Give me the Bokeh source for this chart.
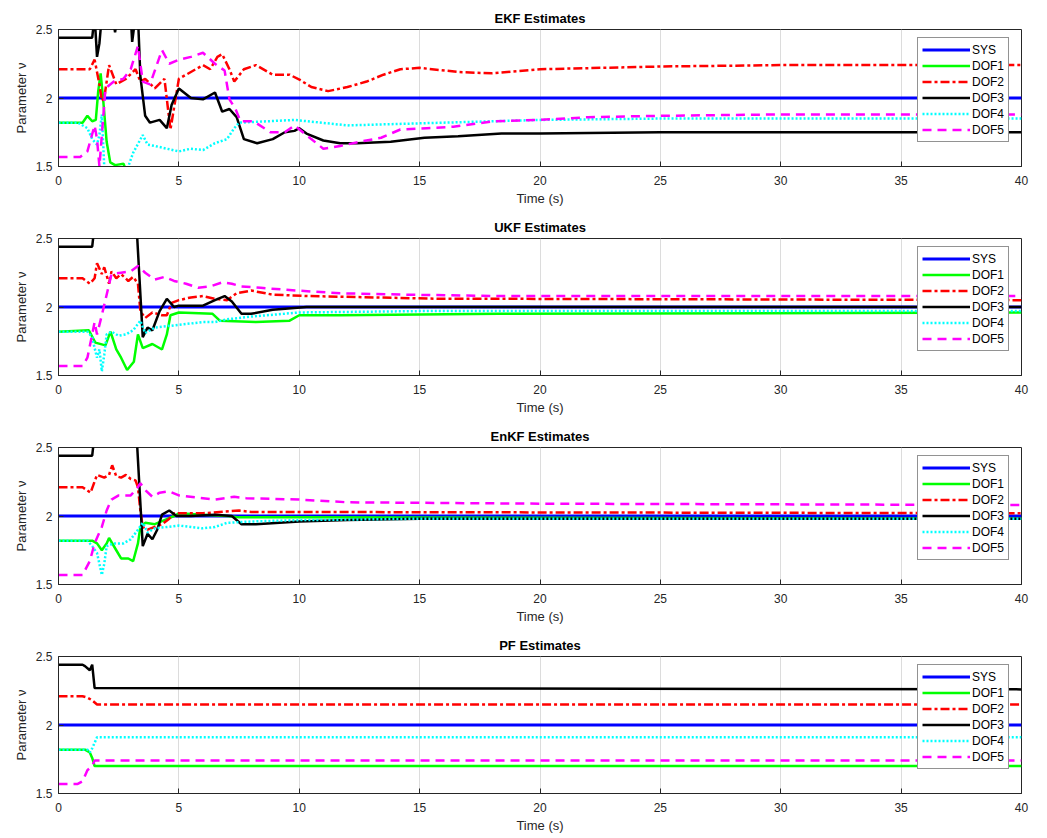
from bokeh.plotting import figure
from bokeh.layouts import column
from bokeh.models import Range1d, FixedTicker, CustomJSTickFormatter, Legend, LegendItem
from bokeh.embed import file_html
from bokeh.resources import INLINE

# ---------------- data ----------------
SERIES = ["SYS", "DOF1", "DOF2", "DOF3", "DOF4", "DOF5"]
X_TICKS = [0, 5, 10, 15, 20, 25, 30, 35, 40]
Y_TICKS = [1.5, 2, 2.5]

SYS_T = [0, 40]
SYS_V = [2.0, 2.0]

# EKF
EKF_DOF1_T = [0, 1.0, 1.2, 1.4, 1.55, 1.65, 1.75, 1.85, 2.0, 2.15, 2.35, 2.7, 2.85, 40]
EKF_DOF1_V = [1.82, 1.82, 1.87, 1.83, 1.84, 2.05, 2.18, 2.0, 1.68, 1.53, 1.51, 1.52, 1.45, 1.45]
EKF_DOF2_T = [0, 1.3, 1.5, 1.7, 1.8, 1.9, 2.1, 2.4, 2.8, 3.2, 3.4, 3.6, 4.0, 4.4, 4.65, 5.0, 5.5, 6.0, 6.3, 6.6, 6.8, 7.1, 7.3, 7.7, 8.2, 8.9, 9.6, 10.05, 10.5, 11.2, 12.0, 12.8, 13.5, 14.2, 15.0, 16.6, 18.0, 20, 25, 30, 40]
EKF_DOF2_V = [2.21, 2.21, 2.28, 2.10, 1.98, 2.0, 2.24, 2.1, 2.14, 2.21, 2.12, 2.14, 2.07, 2.14, 1.77, 2.14, 2.19, 2.24, 2.21, 2.30, 2.32, 2.21, 2.12, 2.21, 2.24, 2.17, 2.17, 2.13, 2.08, 2.05, 2.08, 2.12, 2.17, 2.21, 2.22, 2.19, 2.18, 2.21, 2.23, 2.24, 2.24]
EKF_DOF3_T = [0, 1.4, 1.5, 1.6, 1.7, 1.8, 2.25, 2.35, 2.45, 3.0, 3.06, 3.2, 3.3, 3.4, 3.6, 3.8, 4.2, 4.5, 4.7, 5.0, 5.5, 6.0, 6.5, 6.8, 7.1, 7.4, 7.7, 8.25, 8.9, 9.4, 9.8, 10.0, 10.3, 11.0, 11.7, 12.4, 13.8, 15.2, 16.6, 18.4, 20, 25, 40]
EKF_DOF3_V = [2.44, 2.44, 2.6, 2.3, 2.4, 2.6, 2.6, 2.48, 2.6, 2.6, 2.41, 2.6, 2.6, 2.16, 1.87, 1.82, 1.84, 1.78, 1.95, 2.07, 2.0, 1.99, 2.04, 1.90, 1.92, 1.86, 1.70, 1.67, 1.70, 1.75, 1.76, 1.78, 1.74, 1.69, 1.67, 1.67, 1.68, 1.71, 1.72, 1.74, 1.74, 1.75, 1.75]
EKF_DOF4_T = [0, 0.8, 1.2, 1.4, 1.6, 1.7, 1.8, 1.9, 2.0, 2.8, 2.9, 3.1, 3.5, 3.7, 4.0, 4.5, 5.0, 5.5, 6.0, 6.5, 7.0, 7.3, 7.5, 9.8, 12, 14, 16, 18, 20, 25, 40]
EKF_DOF4_V = [1.82, 1.82, 1.78, 1.70, 1.66, 1.73, 1.88, 1.5, 1.45, 1.45, 1.5, 1.60, 1.73, 1.66, 1.65, 1.63, 1.61, 1.63, 1.62, 1.67, 1.70, 1.78, 1.82, 1.84, 1.80, 1.81, 1.82, 1.83, 1.84, 1.85, 1.85]
EKF_DOF5_T = [0, 0.9, 1.2, 1.5, 1.6, 1.7, 1.95, 2.3, 2.7, 3.0, 3.3, 3.5, 3.8, 4.3, 4.6, 5.0, 5.5, 6.0, 6.5, 6.9, 7.1, 7.35, 7.56, 8.1, 8.8, 9.4, 9.8, 10.5, 11.0, 11.7, 12.5, 13.4, 14.2, 15.3, 16.4, 18.1, 20, 22, 25, 30, 40]
EKF_DOF5_V = [1.57, 1.57, 1.61, 1.80, 1.70, 1.50, 2.07, 2.12, 2.14, 2.21, 2.38, 2.12, 2.10, 2.35, 2.25, 2.28, 2.30, 2.33, 2.25, 2.20, 1.99, 1.92, 1.83, 1.83, 1.75, 1.75, 1.80, 1.70, 1.63, 1.65, 1.68, 1.71, 1.77, 1.78, 1.79, 1.83, 1.84, 1.86, 1.87, 1.88, 1.88]

# UKF
UKF_DOF1_T = [0, 1.26, 1.53, 1.95, 2.16, 2.4, 2.6, 2.85, 3.13, 3.3, 3.5, 3.9, 4.3, 4.5, 4.65, 5.0, 6.4, 6.7, 8.2, 9.6, 10.0, 11.7, 18.3, 40]
UKF_DOF1_V = [1.82, 1.83, 1.74, 1.72, 1.82, 1.69, 1.63, 1.54, 1.60, 1.80, 1.70, 1.73, 1.69, 1.80, 1.94, 1.96, 1.95, 1.90, 1.89, 1.90, 1.94, 1.94, 1.95, 1.96]
UKF_DOF2_T = [0, 1.0, 1.3, 1.5, 1.6, 1.8, 1.9, 2.1, 2.2, 2.4, 2.6, 2.9, 3.1, 3.3, 3.4, 3.6, 3.9, 4.3, 4.5, 4.7, 5.0, 5.5, 6.0, 6.5, 7.0, 7.4, 8.0, 8.9, 10.3, 13.1, 15.8, 18.3, 40]
UKF_DOF2_V = [2.21, 2.21, 2.17, 2.21, 2.32, 2.24, 2.29, 2.17, 2.26, 2.21, 2.24, 2.19, 2.22, 2.17, 1.97, 1.92, 1.96, 1.94, 1.94, 2.03, 2.05, 2.07, 2.08, 2.06, 2.05, 2.10, 2.12, 2.09, 2.08, 2.07, 2.06, 2.06, 2.05]
UKF_DOF3_T = [0, 1.4, 1.5, 3.24, 3.5, 3.7, 3.9, 4.2, 4.5, 4.8, 5.0, 6.0, 6.5, 6.9, 7.2, 7.6, 8.0, 8.9, 10.3, 40]
UKF_DOF3_V = [2.44, 2.44, 2.6, 2.6, 1.78, 1.85, 1.83, 1.97, 2.06, 2.0, 2.01, 2.01, 2.05, 2.08, 2.04, 1.95, 1.95, 1.98, 2.0, 2.0]
UKF_DOF4_T = [0, 1.2, 1.4, 1.5, 1.6, 1.7, 1.8, 1.9, 2.0, 2.2, 2.5, 2.8, 3.1, 3.4, 3.6, 4.0, 4.5, 5.0, 5.5, 6.0, 6.5, 7.0, 7.5, 8.0, 10, 15, 40]
UKF_DOF4_V = [1.82, 1.82, 1.78, 1.70, 1.63, 1.69, 1.53, 1.65, 1.80, 1.82, 1.79, 1.80, 1.83, 1.90, 1.81, 1.85, 1.86, 1.87, 1.88, 1.89, 1.89, 1.91, 1.92, 1.93, 1.96, 1.97, 1.97]
UKF_DOF5_T = [0, 1.0, 1.2, 1.4, 1.5, 1.6, 1.8, 2.0, 2.2, 2.6, 3.0, 3.3, 3.6, 4.0, 4.4, 4.8, 5.3, 5.8, 6.3, 6.8, 7.2, 7.6, 8.4, 9.9, 11.7, 14.5, 18.3, 40]
UKF_DOF5_V = [1.57, 1.57, 1.63, 1.80, 1.89, 1.80, 1.94, 2.09, 2.24, 2.25, 2.26, 2.30, 2.25, 2.20, 2.22, 2.19, 2.17, 2.14, 2.15, 2.18, 2.17, 2.15, 2.14, 2.12, 2.10, 2.09, 2.08, 2.08]

# EnKF
ENKF_DOF1_T = [0, 1.4, 1.6, 1.8, 2.0, 2.1, 2.4, 2.6, 2.9, 3.1, 3.3, 3.4, 3.6, 4.0, 4.4, 4.8, 5.0, 6.0, 7.0, 7.5, 10, 40]
ENKF_DOF1_V = [1.82, 1.82, 1.80, 1.75, 1.80, 1.84, 1.75, 1.69, 1.69, 1.67, 1.80, 1.92, 1.95, 1.94, 1.97, 2.0, 2.02, 2.01, 2.0, 1.99, 1.99, 1.98]
ENKF_DOF2_T = [0, 1.0, 1.33, 1.6, 1.9, 2.1, 2.23, 2.4, 2.6, 2.8, 3.0, 3.2, 3.3, 3.4, 3.5, 3.7, 4.0, 4.3, 4.6, 4.8, 5.0, 6.0, 7.5, 8.0, 40]
ENKF_DOF2_V = [2.21, 2.21, 2.17, 2.30, 2.28, 2.30, 2.37, 2.29, 2.28, 2.30, 2.27, 2.26, 2.21, 2.04, 1.92, 1.90, 1.92, 1.94, 1.98, 2.02, 2.02, 2.02, 2.04, 2.03, 2.02]
ENKF_DOF3_T = [0, 1.4, 1.5, 3.24, 3.5, 3.7, 3.9, 4.1, 4.3, 4.6, 4.9, 5.5, 6.5, 7.2, 7.6, 8.2, 10, 12, 15, 40]
ENKF_DOF3_V = [2.44, 2.44, 2.6, 2.6, 1.78, 1.87, 1.83, 1.90, 2.01, 2.04, 2.0, 2.0, 2.01, 2.0, 1.94, 1.94, 1.96, 1.97, 1.98, 1.98]
ENKF_DOF4_T = [0, 1.2, 1.4, 1.6, 1.8, 1.9, 2.0, 2.3, 2.7, 3.0, 3.3, 3.5, 3.7, 4.0, 4.5, 5.0, 5.5, 6.0, 6.5, 7.0, 8.0, 10, 15, 40]
ENKF_DOF4_V = [1.82, 1.82, 1.78, 1.73, 1.57, 1.65, 1.78, 1.80, 1.80, 1.83, 1.90, 1.95, 1.88, 1.91, 1.92, 1.93, 1.92, 1.91, 1.92, 1.95, 1.96, 1.97, 1.98, 1.98]
ENKF_DOF5_T = [0, 1.0, 1.3, 1.5, 1.8, 2.0, 2.2, 2.5, 3.0, 3.3, 3.4, 3.6, 3.9, 4.2, 4.6, 5.0, 6.0, 6.5, 7.3, 7.8, 10, 12, 20, 40]
ENKF_DOF5_V = [1.57, 1.57, 1.67, 1.80, 1.92, 2.04, 2.12, 2.15, 2.15, 2.21, 2.24, 2.19, 2.14, 2.17, 2.18, 2.15, 2.13, 2.12, 2.14, 2.13, 2.12, 2.10, 2.09, 2.08]

# PF
PF_DOF1_T = [0, 1.1, 1.3, 1.4, 1.5, 40]
PF_DOF1_V = [1.82, 1.82, 1.80, 1.76, 1.70, 1.70]
PF_DOF2_T = [0, 1.0, 1.2, 1.4, 1.6, 40]
PF_DOF2_V = [2.21, 2.21, 2.20, 2.18, 2.15, 2.15]
PF_DOF3_T = [0, 1.0, 1.1, 1.3, 1.4, 1.5, 40]
PF_DOF3_V = [2.44, 2.44, 2.43, 2.40, 2.44, 2.27, 2.26]
PF_DOF4_T = [0, 1.2, 1.3, 1.4, 1.5, 1.6, 40]
PF_DOF4_V = [1.82, 1.82, 1.80, 1.83, 1.87, 1.91, 1.91]
PF_DOF5_T = [0, 0.8, 1.0, 1.2, 1.4, 1.5, 40]
PF_DOF5_V = [1.57, 1.57, 1.59, 1.67, 1.70, 1.74, 1.74]

PANELS = [
    ("EKF Estimates", [(SYS_T, SYS_V), (EKF_DOF1_T, EKF_DOF1_V), (EKF_DOF2_T, EKF_DOF2_V),
                       (EKF_DOF3_T, EKF_DOF3_V), (EKF_DOF4_T, EKF_DOF4_V), (EKF_DOF5_T, EKF_DOF5_V)]),
    ("UKF Estimates", [(SYS_T, SYS_V), (UKF_DOF1_T, UKF_DOF1_V), (UKF_DOF2_T, UKF_DOF2_V),
                       (UKF_DOF3_T, UKF_DOF3_V), (UKF_DOF4_T, UKF_DOF4_V), (UKF_DOF5_T, UKF_DOF5_V)]),
    ("EnKF Estimates", [(SYS_T, SYS_V), (ENKF_DOF1_T, ENKF_DOF1_V), (ENKF_DOF2_T, ENKF_DOF2_V),
                        (ENKF_DOF3_T, ENKF_DOF3_V), (ENKF_DOF4_T, ENKF_DOF4_V), (ENKF_DOF5_T, ENKF_DOF5_V)]),
    ("PF Estimates", [(SYS_T, SYS_V), (PF_DOF1_T, PF_DOF1_V), (PF_DOF2_T, PF_DOF2_V),
                      (PF_DOF3_T, PF_DOF3_V), (PF_DOF4_T, PF_DOF4_V), (PF_DOF5_T, PF_DOF5_V)]),
]

# ---------------- styles ----------------
COLORS = ["#0000ff", "#00ff00", "#ff0000", "#000000", "#00ffff", "#ff00ff"]
DASHES = ["solid", "solid", "9 3 3 3", "solid", "2 2", "9 6"]
WIDTHS = [3, 2.5, 2.5, 2.5, 2.5, 2.5]
FONT = "Liberation Sans"
TXT = "#262626"


def make_panel(title, series):
    p = figure(width=1047, height=209, output_backend="svg", toolbar_location=None,
               x_range=Range1d(0, 40), y_range=Range1d(1.5, 2.5),
               min_border_left=58, min_border_right=26, min_border_top=29, min_border_bottom=43)
    p.title.text = title
    p.title.align = "center"
    p.title.text_font = FONT
    p.title.text_font_size = "13px"
    p.title.text_font_style = "bold"
    p.title.text_color = "#000000"
    p.title.standoff = 7

    p.outline_line_color = "#262626"
    p.outline_line_width = 1
    p.background_fill_color = "white"
    p.border_fill_color = "white"

    p.xgrid.grid_line_color = "#dcdcdc"
    p.xgrid.ticker = FixedTicker(ticks=X_TICKS)
    p.ygrid.grid_line_color = None

    p.xaxis.ticker = FixedTicker(ticks=X_TICKS)
    p.yaxis.ticker = FixedTicker(ticks=Y_TICKS)
    p.yaxis.formatter = CustomJSTickFormatter(code="return String(tick);")
    for ax in (p.xaxis[0], p.yaxis[0]):
        ax.major_tick_in = 5
        ax.major_tick_out = 0
        ax.minor_tick_in = 0
        ax.minor_tick_out = 0
        ax.axis_line_color = "#262626"
        ax.major_tick_line_color = "#262626"
        ax.major_label_text_font = FONT
        ax.major_label_text_font_size = "12px"
        ax.major_label_text_color = TXT
        ax.axis_label_text_font = FONT
        ax.axis_label_text_font_size = "13px"
        ax.axis_label_text_font_style = "normal"
        ax.axis_label_text_color = TXT
    p.xaxis.axis_label = "Time (s)"
    p.xaxis.major_label_standoff = 9
    p.xaxis.axis_label_standoff = 3
    p.yaxis.axis_label = "Parameter \u03bd"
    p.yaxis.major_label_standoff = 6
    p.yaxis.axis_label_standoff = 4

    items = []
    for name, (t, v), c, d, w in zip(SERIES, series, COLORS, DASHES, WIDTHS):
        r = p.line(t, v, line_color=c, line_width=w, line_dash=d)
        items.append(LegendItem(label=name, renderers=[r]))

    leg = Legend(items=items, location=(859, 24))
    leg.label_text_font = FONT
    leg.label_text_font_size = "12px"
    leg.label_text_color = "#000000"
    leg.glyph_width = 48
    leg.glyph_height = 15
    leg.label_height = 15
    leg.label_standoff = 2
    leg.spacing = 1
    leg.padding = 4
    leg.margin = 0
    leg.border_line_color = "#262626"
    leg.border_line_width = 1
    leg.background_fill_alpha = 1
    p.add_layout(leg)
    return p


figs = [make_panel(t, s) for t, s in PANELS]
layout = column(*figs, spacing=0)

open("out.html", "w").write(file_html(layout, INLINE))
